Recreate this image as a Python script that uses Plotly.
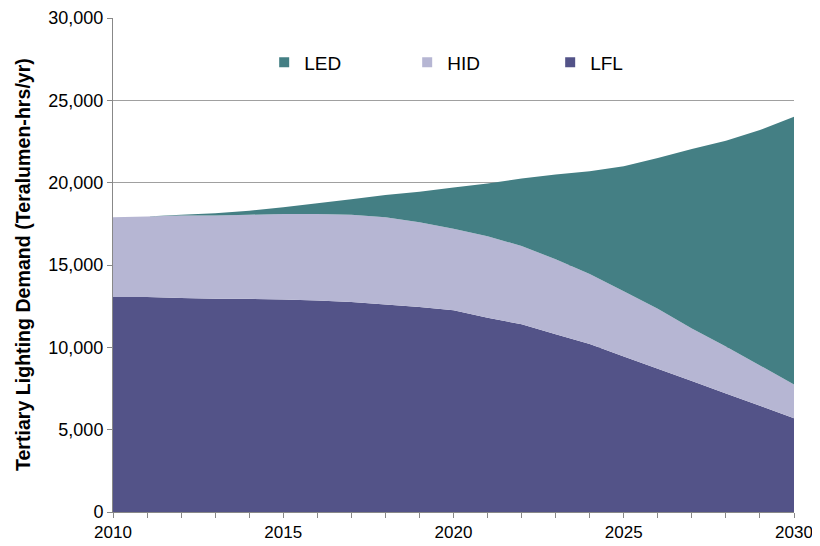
import plotly.graph_objects as go

years = list(range(2010, 2031))
lfl = [13050, 13050, 13000, 12950, 12950, 12900, 12850, 12750, 12600, 12450, 12250,
       11800, 11400, 10800, 10200, 9450, 8700, 7950, 7200, 6450, 5700]
hid = [4850, 4900, 5000, 5050, 5100, 5200, 5250, 5300, 5300, 5150, 4950,
       4950, 4750, 4550, 4250, 3950, 3650, 3200, 2850, 2450, 2050]
led = [0, 0, 50, 150, 250, 400, 650, 950, 1350, 1850, 2500,
       3200, 4100, 5150, 6250, 7600, 9150, 10900, 12500, 14300, 16250]

series = [("LFL", lfl, "#535388"), ("HID", hid, "#b6b6d3"), ("LED", led, "#447f84")]

fig = go.Figure()
for name, vals, col in series:
    fig.add_trace(go.Scatter(x=years, y=vals, name=name, stackgroup="one",
                             mode="none", fillcolor=col, showlegend=False))
# square legend keys
for name, vals, col in series:
    fig.add_trace(go.Scatter(x=[None], y=[None], name=name, mode="markers",
                             marker=dict(symbol="square", size=10, color=col)))

# page body has an 8px margin, so the figure is a little smaller than the window
fig.update_layout(
    width=812, height=538,
    margin=dict(l=105, r=26, t=10, b=34),
    plot_bgcolor="white", paper_bgcolor="white",
    font=dict(family="Liberation Sans, Arial", size=18, color="#000"),
    legend=dict(orientation="h", x=0.222, y=0.91, xanchor="left", yanchor="middle",
                traceorder="reversed", entrywidth=98, font=dict(size=19),
                bgcolor="rgba(0,0,0,0)"),
    showlegend=True,
)
fig.update_xaxes(range=[2010, 2030], tick0=2010, dtick=5, ticks="outside", ticklen=5,
                 tickcolor="#888", showline=True, linecolor="#888", showgrid=False,
                 zeroline=False, automargin=False, ticklabeloverflow="allow",
                 tickfont=dict(size=17),
                 minor=dict(dtick=1, ticks="outside", ticklen=5, tickcolor="#888", showgrid=False))
fig.update_yaxes(range=[0, 30000], dtick=5000, tickformat=",", ticks="outside", ticklen=5,
                 tickcolor="#888", showline=True, linecolor="#888", showgrid=True,
                 gridcolor="#a0a0a0", zeroline=False, automargin=False,
                 ticklabeloverflow="allow")
fig.add_annotation(text="<b>Tertiary Lighting Demand (Teralumen-hrs/yr)</b>",
                   xref="paper", yref="paper", x=-0.132, y=0.5, xanchor="center",
                   yanchor="middle", textangle=-90, showarrow=False, font=dict(size=19.6))

fig.write_html("out.html")
